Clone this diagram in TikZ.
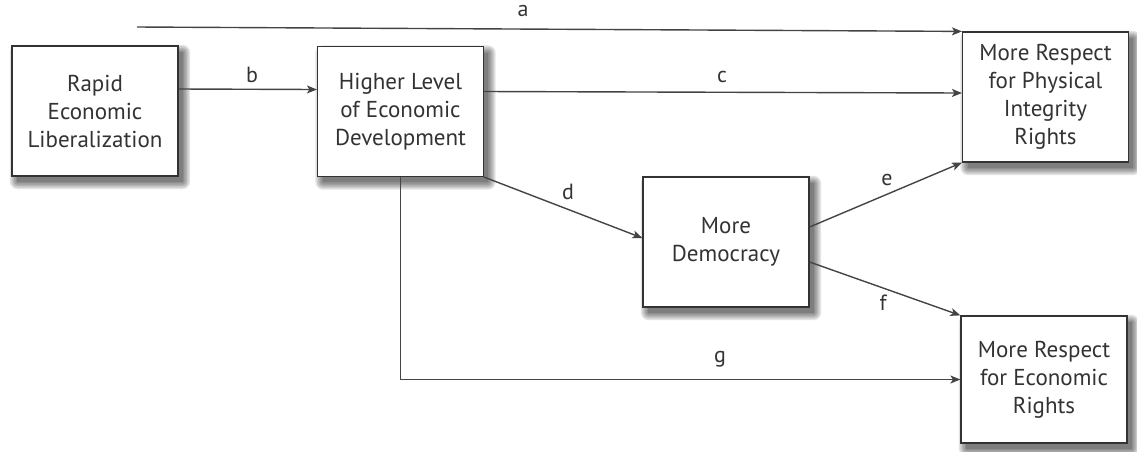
\documentclass[tikz,border=0pt]{standalone}
\usepackage{fontspec}
\setmainfont{PT Sans}
\usetikzlibrary{arrows.meta}
\pgfdeclarelayer{bg}
\pgfsetlayers{bg,main}
\definecolor{ink}{HTML}{333333}
\definecolor{wire}{HTML}{444444}
\tikzset{
  box/.style={draw=ink, line width=1.2pt, fill=white, text=ink, align=center,
    minimum width=166pt, minimum height=130pt, inner sep=2pt,
    font=\fontsize{23}{28}\selectfont},
  arr/.style={draw=wire, line width=1.4pt,
    -{Stealth[length=10pt, width=8pt, inset=2.5pt]}},
  lbl/.style={text=ink, font=\fontsize{22}{26}\selectfont, anchor=base, inner sep=0pt},
  shadowlayer/.style={fill=black, opacity=0.11, rounded corners=#1pt}
}
% soft shadow behind a named box, offset to the lower right
\newcommand{\boxshade}[1]{%
  \begin{pgfonlayer}{bg}
    \foreach \r in {0,1.5,...,7.5} {
      \fill[shadowlayer=\r]
        ([xshift=5pt-\r pt+1pt, yshift=-6pt+\r pt-1pt]#1.north west)
        rectangle ([xshift=5pt+\r pt-1pt, yshift=-6pt-\r pt+1pt]#1.south east);
    }
  \end{pgfonlayer}}
\begin{document}
\begin{tikzpicture}[x=1pt, y=-1pt]
\useasboundingbox (0,0) rectangle (1137,451);

% boxes
\node[box] (A) at (95,111) {Rapid\\Economic\\Liberalization};
\node[box] (B) at (400.5,111.5) {Higher Level\\of Economic\\Development};
\node[box] (E) at (1045.5,97) {More Respect\\for Physical\\Integrity\\Rights};
\node[box] (D) at (726,242) {More\\Democracy};
\node[box, minimum height=127pt] (F) at (1044,379.5) {More Respect\\for Economic\\Rights};

\boxshade{A}
\boxshade{B}
\boxshade{E}
\boxshade{D}
\boxshade{F}

% paths
\coordinate (a0) at (137,27);
\draw[arr] (a0) -- (E.north west);
\draw[arr] ([yshift=22pt]A.east) -- ([yshift=22pt]B.west);
\draw[arr] ([yshift=20pt]B.east) -- ([yshift=4pt]E.west);
\draw[arr] (B.south east) -- ([yshift=4pt]D.west);
\draw[arr] ([yshift=15pt]D.east) -- (E.south west);
\draw[arr] ([yshift=-20pt]D.east) -- (F.north west);
\draw[arr] (B.south) |- (F.west);

% path labels
\node[lbl] (la) at (523,16) {a};
\node[lbl] (lb) at (252,82) {b};
\node[lbl] (lc) at (722,82) {c};
\node[lbl] (ld) at (568,199) {d};
\node[lbl] (le) at (887,185) {e};
\node[lbl] (lf) at (883,310) {f};
\node[lbl] (lg) at (720,362) {g};
\end{tikzpicture}
\end{document}
